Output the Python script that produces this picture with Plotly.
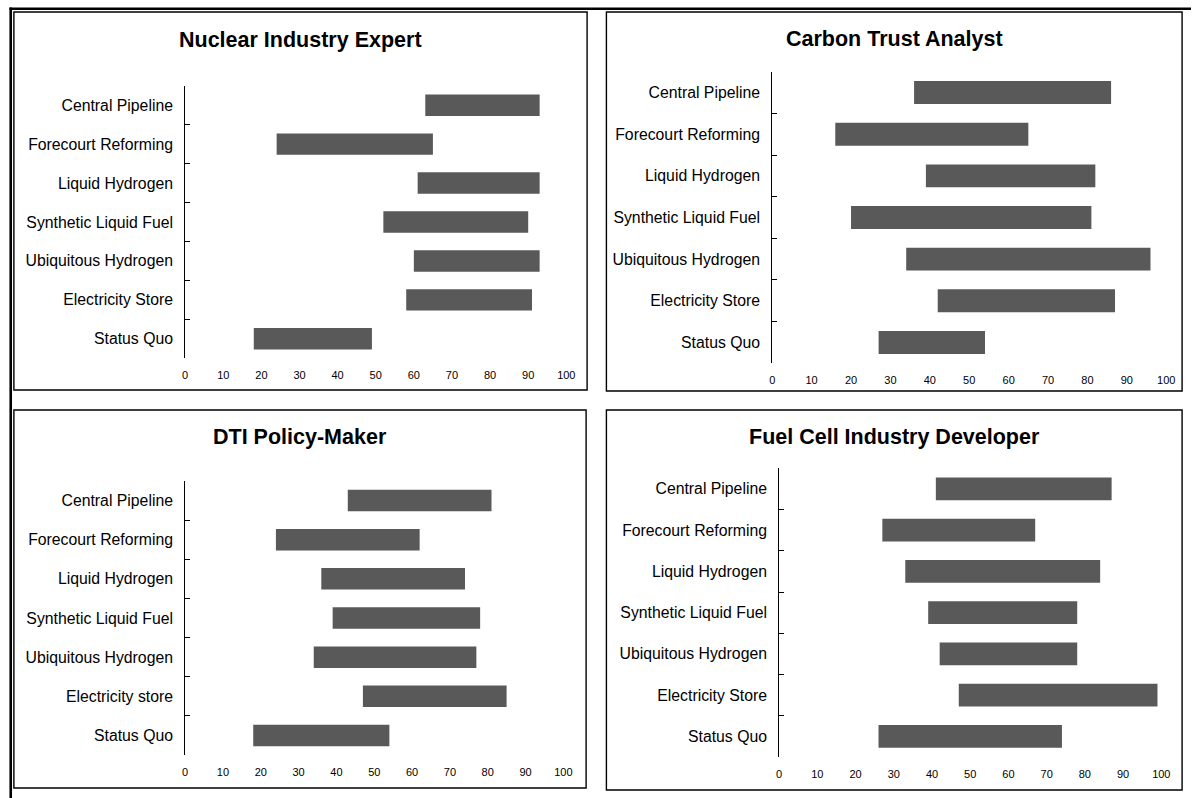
import plotly.graph_objects as go

# Technology pathways (top to bottom) and each stakeholder's score range (0-100)
pathways = [
    "Central Pipeline",
    "Forecourt Reforming",
    "Liquid Hydrogen",
    "Synthetic Liquid Fuel",
    "Ubiquitous Hydrogen",
    "Electricity Store",
    "Status Quo",
]
pathways_dti = [
    "Central Pipeline",
    "Forecourt Reforming",
    "Liquid Hydrogen",
    "Synthetic Liquid Fuel",
    "Ubiquitous Hydrogen",
    "Electricity store",
    "Status Quo",
]

nuclear_low = [63, 24, 61, 52, 60, 58, 18]
nuclear_high = [93, 65, 93, 90, 93, 91, 49]

carbon_low = [36, 16, 39, 20, 34, 42, 27]
carbon_high = [86, 65, 82, 81, 96, 87, 54]

dti_low = [43, 24, 36, 39, 34, 47, 18]
dti_high = [81, 62, 74, 78, 77, 85, 54]

fuelcell_low = [41, 27, 33, 39, 42, 47, 26]
fuelcell_high = [87, 67, 84, 78, 78, 99, 74]

titles = [
    "Nuclear Industry Expert",
    "Carbon Trust Analyst",
    "DTI Policy-Maker",
    "Fuel Cell Industry Developer",
]
x_ticks = list(range(0, 101, 10))

W, H = 1200, 798
FONT = "Liberation Sans, Arial, Helvetica, sans-serif"
BAR_COLOR = "#595959"


def px_x(v):
    return v / W


def px_y(v):
    return 1 - v / H


# Per-panel layout in pixels: plot area (x0, x1, y0, y1), frame (x0, y0, x1, y1), title y
panels = [
    dict(cats=pathways, low=nuclear_low, high=nuclear_high,
         plot=(184, 569, 85.7, 358.3), frame=(11, 12, 590, 390), ty=39.5),
    dict(cats=pathways, low=carbon_low, high=carbon_high,
         plot=(777, 1175, 71.7, 363.3), frame=(609.5, 12, 1191, 391), ty=38.5),
    dict(cats=pathways_dti, low=dti_low, high=dti_high,
         plot=(184, 566, 481, 755), frame=(11, 410, 589, 788), ty=437),
    dict(cats=pathways, low=fuelcell_low, high=fuelcell_high,
         plot=(784, 1170, 468.3, 757), frame=(609.5, 410, 1191, 790), ty=437),
]

fig = go.Figure()
shapes = []
annotations = []

for i, (p, title) in enumerate(zip(panels, titles), start=1):
    xa = "x" if i == 1 else f"x{i}"
    ya = "y" if i == 1 else f"y{i}"
    spans = [h - l for l, h in zip(p["low"], p["high"])]
    fig.add_trace(go.Bar(
        y=p["cats"], x=spans, base=p["low"], orientation="h",
        marker=dict(color=BAR_COLOR, line=dict(width=0)),
        xaxis=xa, yaxis=ya, showlegend=False, hoverinfo="skip",
    ))

    x0, x1, y0, y1 = p["plot"]
    xkey = "xaxis" if i == 1 else f"xaxis{i}"
    ykey = "yaxis" if i == 1 else f"yaxis{i}"
    fig.layout[xkey] = dict(
        domain=[px_x(x0), px_x(x1)], range=[0, 100], anchor=ya,
        tickvals=x_ticks, ticks="", showline=False, showgrid=False,
        zeroline=False, tickfont=dict(family=FONT, size=11, color="#000"),
        ticklabelstandoff=9, fixedrange=True,
    )
    fig.layout[ykey] = dict(
        domain=[px_y(y1), px_y(y0)], anchor=xa, type="category",
        categoryorder="array", categoryarray=p["cats"], autorange="reversed",
        showline=True, linecolor="#000", linewidth=1,
        ticks="inside", tickson="boundaries", ticklen=5, tickwidth=1,
        tickcolor="#000", showgrid=False, zeroline=False,
        tickfont=dict(family=FONT, size=15.8, color="#000"),
        ticklabelstandoff=8, fixedrange=True,
    )

    fx0, fy0, fx1, fy1 = p["frame"]
    shapes.append(dict(
        type="rect", xref="paper", yref="paper",
        x0=px_x(fx0), x1=px_x(fx1), y0=px_y(fy1), y1=px_y(fy0),
        line=dict(color="#000", width=1.4), fillcolor="rgba(0,0,0,0)",
    ))
    annotations.append(dict(
        text=f"<b>{title}</b>", xref="paper", yref="paper",
        x=px_x((fx0 + fx1) / 2), y=px_y(p["ty"]),
        xanchor="center", yanchor="middle", showarrow=False,
        font=dict(family=FONT, size=21.5, color="#000"),
    ))

# Heavy outer rules along the top and left edges of the page
shapes.append(dict(type="line", xref="paper", yref="paper",
                   x0=px_x(6.5), x1=1, y0=px_y(8.8), y1=px_y(8.8),
                   line=dict(color="#000", width=2.6)))
shapes.append(dict(type="line", xref="paper", yref="paper",
                   x0=px_x(7.8), x1=px_x(7.8), y0=0, y1=px_y(7.6),
                   line=dict(color="#000", width=2.6)))

fig.update_layout(
    width=W, height=H,
    margin=dict(l=0, r=0, t=0, b=0),
    paper_bgcolor="#fff", plot_bgcolor="#fff",
    bargap=0.45, barmode="overlay",
    shapes=shapes, annotations=annotations,
    font=dict(family=FONT, color="#000"),
)

fig.write_html("out.html")
